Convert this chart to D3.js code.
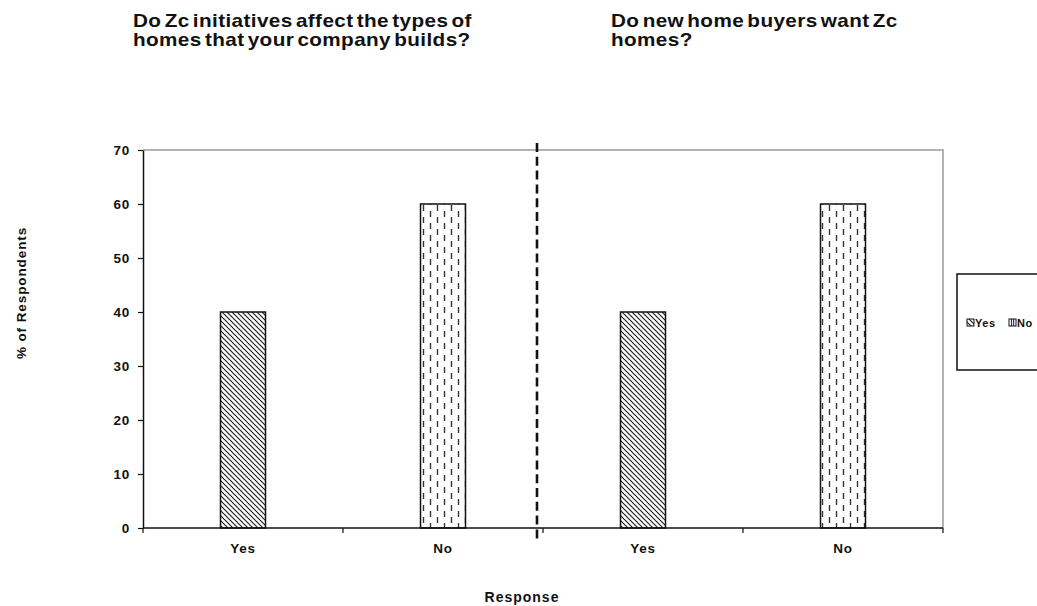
<!DOCTYPE html>
<html>
<head>
<meta charset="utf-8">
<script src="https://cdn.jsdelivr.net/npm/d3@7"></script>
<style>
  html, body { margin: 0; padding: 0; background: #fff; }
  svg text { font-family: "Liberation Sans", Arial, sans-serif; font-weight: bold; fill: #111; }
</style>
</head>
<body>
<svg id="chart" width="1037" height="606"></svg>
<script>
// Survey questions, the answers offered, and the share of respondents (%)
const questions = [
  ["Do Zc initiatives affect the types of", "homes that your company builds?"],
  ["Do new home buyers want Zc", "homes?"]
];
const responses = ["Yes", "No"];
const yesValues = [40, 40];
const noValues = [60, 60];
const yTicks = [0, 10, 20, 30, 40, 50, 60, 70];
const yTitle = "% of Respondents";
const xTitle = "Response";

const rows = [];
questions.forEach((q, qi) => {
  rows.push({ key: qi + "-Yes", question: qi, response: "Yes", value: yesValues[qi] });
  rows.push({ key: qi + "-No", question: qi, response: "No", value: noValues[qi] });
});

const svg = d3.select("#chart");
const plot = { left: 143, right: 943, top: 150, bottom: 528 };

const x = d3.scaleBand().domain(rows.map(d => d.key)).range([plot.left, plot.right]);
const y = d3.scaleLinear().domain([0, 70]).range([plot.bottom, plot.top]);
const barFrac = 0.225;

// Fill patterns: diagonal hatching for "Yes", staggered dashed verticals for "No"
const defs = svg.append("defs");
const pYes = defs.append("pattern").attr("id", "pat-yes")
  .attr("patternUnits", "userSpaceOnUse").attr("width", 5).attr("height", 5);
pYes.append("rect").attr("width", 5).attr("height", 5).attr("fill", "#fff");
pYes.append("path").attr("d", "M-1,-1 L6,6 M-1,4 L1,6 M4,-1 L6,1")
  .attr("stroke", "#222").attr("stroke-width", 1.2);

const pNo = defs.append("pattern").attr("id", "pat-no")
  .attr("patternUnits", "userSpaceOnUse").attr("width", 14).attr("height", 12);
pNo.append("rect").attr("width", 14).attr("height", 12).attr("fill", "#fff");
pNo.append("line").attr("x1", 3.5).attr("x2", 3.5).attr("y1", 1).attr("y2", 7)
  .attr("stroke", "#333").attr("stroke-width", 1.4);
pNo.append("line").attr("x1", 10.5).attr("x2", 10.5).attr("y1", 7).attr("y2", 13)
  .attr("stroke", "#333").attr("stroke-width", 1.4);
pNo.append("line").attr("x1", 10.5).attr("x2", 10.5).attr("y1", -5).attr("y2", 1)
  .attr("stroke", "#333").attr("stroke-width", 1.4);

// Compact vertical-line swatch for the "No" legend key
const pNoKey = defs.append("pattern").attr("id", "pat-no-key")
  .attr("patternUnits", "objectBoundingBox").attr("patternContentUnits", "objectBoundingBox")
  .attr("width", 1).attr("height", 1);
pNoKey.append("rect").attr("width", 1).attr("height", 1).attr("fill", "#fff");
pNoKey.append("path").attr("d", "M0.36,0 V1 M0.66,0 V1")
  .attr("stroke", "#333").attr("stroke-width", 0.16);

// Plot-area frame (top and right edges in grey)
svg.append("path")
  .attr("d", `M${plot.left},${plot.top} H${plot.right} V${plot.bottom}`)
  .attr("fill", "none").attr("stroke", "#9a9a9a").attr("stroke-width", 1.5);

// Bars
svg.append("g").selectAll("rect").data(rows).join("rect")
  .attr("x", d => x(d.key) + x.bandwidth() * (1 - barFrac) / 2)
  .attr("width", x.bandwidth() * barFrac)
  .attr("y", d => y(d.value))
  .attr("height", d => y(0) - y(d.value))
  .attr("fill", d => d.response === "Yes" ? "url(#pat-yes)" : "url(#pat-no)")
  .attr("stroke", "#111").attr("stroke-width", 1.5);

// Y axis
const yAxis = svg.append("g").attr("transform", `translate(${plot.left},0)`)
  .call(d3.axisLeft(y).tickValues(yTicks).tickSize(5).tickPadding(8).tickSizeOuter(0));
yAxis.select(".domain").attr("stroke", "#111").attr("stroke-width", 1.5);
yAxis.selectAll(".tick line").attr("stroke", "#111").attr("stroke-width", 1.2);
yAxis.selectAll(".tick text")
  .attr("font-family", null).attr("font-size", null)
  .style("font-size", "13.5px").style("letter-spacing", "0.8px");

// X axis: ticks at category boundaries, labels at centres
const xAxis = svg.append("g");
xAxis.append("line")
  .attr("x1", plot.left).attr("x2", plot.right).attr("y1", plot.bottom).attr("y2", plot.bottom)
  .attr("stroke", "#111").attr("stroke-width", 1.5);
const edges = rows.map(d => x(d.key)).concat([x(rows[rows.length - 1].key) + x.bandwidth()]);
xAxis.selectAll("line.tick").data(edges).join("line").attr("class", "tick")
  .attr("x1", d => d).attr("x2", d => d)
  .attr("y1", plot.bottom).attr("y2", plot.bottom + 5)
  .attr("stroke", "#111").attr("stroke-width", 1.2);
xAxis.selectAll("text").data(rows).join("text")
  .attr("x", d => x(d.key) + x.bandwidth() / 2)
  .attr("y", plot.bottom + 25)
  .attr("text-anchor", "middle")
  .style("font-size", "13.5px").style("letter-spacing", "0.8px")
  .text(d => d.response);

// Dashed divider between the two questions
const divX = x("1-Yes") - 6;
svg.append("line")
  .attr("x1", divX).attr("x2", divX)
  .attr("y1", plot.top - 7).attr("y2", plot.bottom + 13)
  .attr("stroke", "#111").attr("stroke-width", 2.6)
  .attr("stroke-dasharray", "9,4.8");

// Question titles (wide bold face, tight word gaps)
const titleX = [133, 611];
questions.forEach((lines, qi) => {
  const t = svg.append("text")
    .attr("transform", `translate(${titleX[qi]},27) scale(1.15,1)`)
    .style("font-size", "18px").style("letter-spacing", "0.35px").style("word-spacing", "-2.5px");
  lines.forEach((ln, li) => {
    t.append("tspan").attr("x", 0).attr("dy", li === 0 ? 0 : 19.5).text(ln);
  });
});

// Axis titles
svg.append("text")
  .attr("transform", `translate(26,293) rotate(-90)`)
  .attr("text-anchor", "middle")
  .style("font-size", "13.5px").style("letter-spacing", "0.9px")
  .text(yTitle);
svg.append("text")
  .attr("x", 522).attr("y", 602)
  .attr("text-anchor", "middle")
  .style("font-size", "14px").style("letter-spacing", "1px")
  .text(xTitle);

// Legend
const legend = svg.append("g");
legend.append("rect")
  .attr("x", 957).attr("y", 274).attr("width", 100).attr("height", 96)
  .attr("fill", "#fff").attr("stroke", "#111").attr("stroke-width", 1.5);
const legendX = [967, 1009];
responses.forEach((r, i) => {
  legend.append("rect")
    .attr("x", legendX[i]).attr("y", 319).attr("width", 7).attr("height", 7)
    .attr("fill", r === "Yes" ? "url(#pat-yes)" : "url(#pat-no-key)")
    .attr("stroke", "#111").attr("stroke-width", 1);
  legend.append("text")
    .attr("x", legendX[i] + 8).attr("y", 327)
    .style("font-size", "11px").style("letter-spacing", "0.6px")
    .text(r);
});
</script>
</body>
</html>
